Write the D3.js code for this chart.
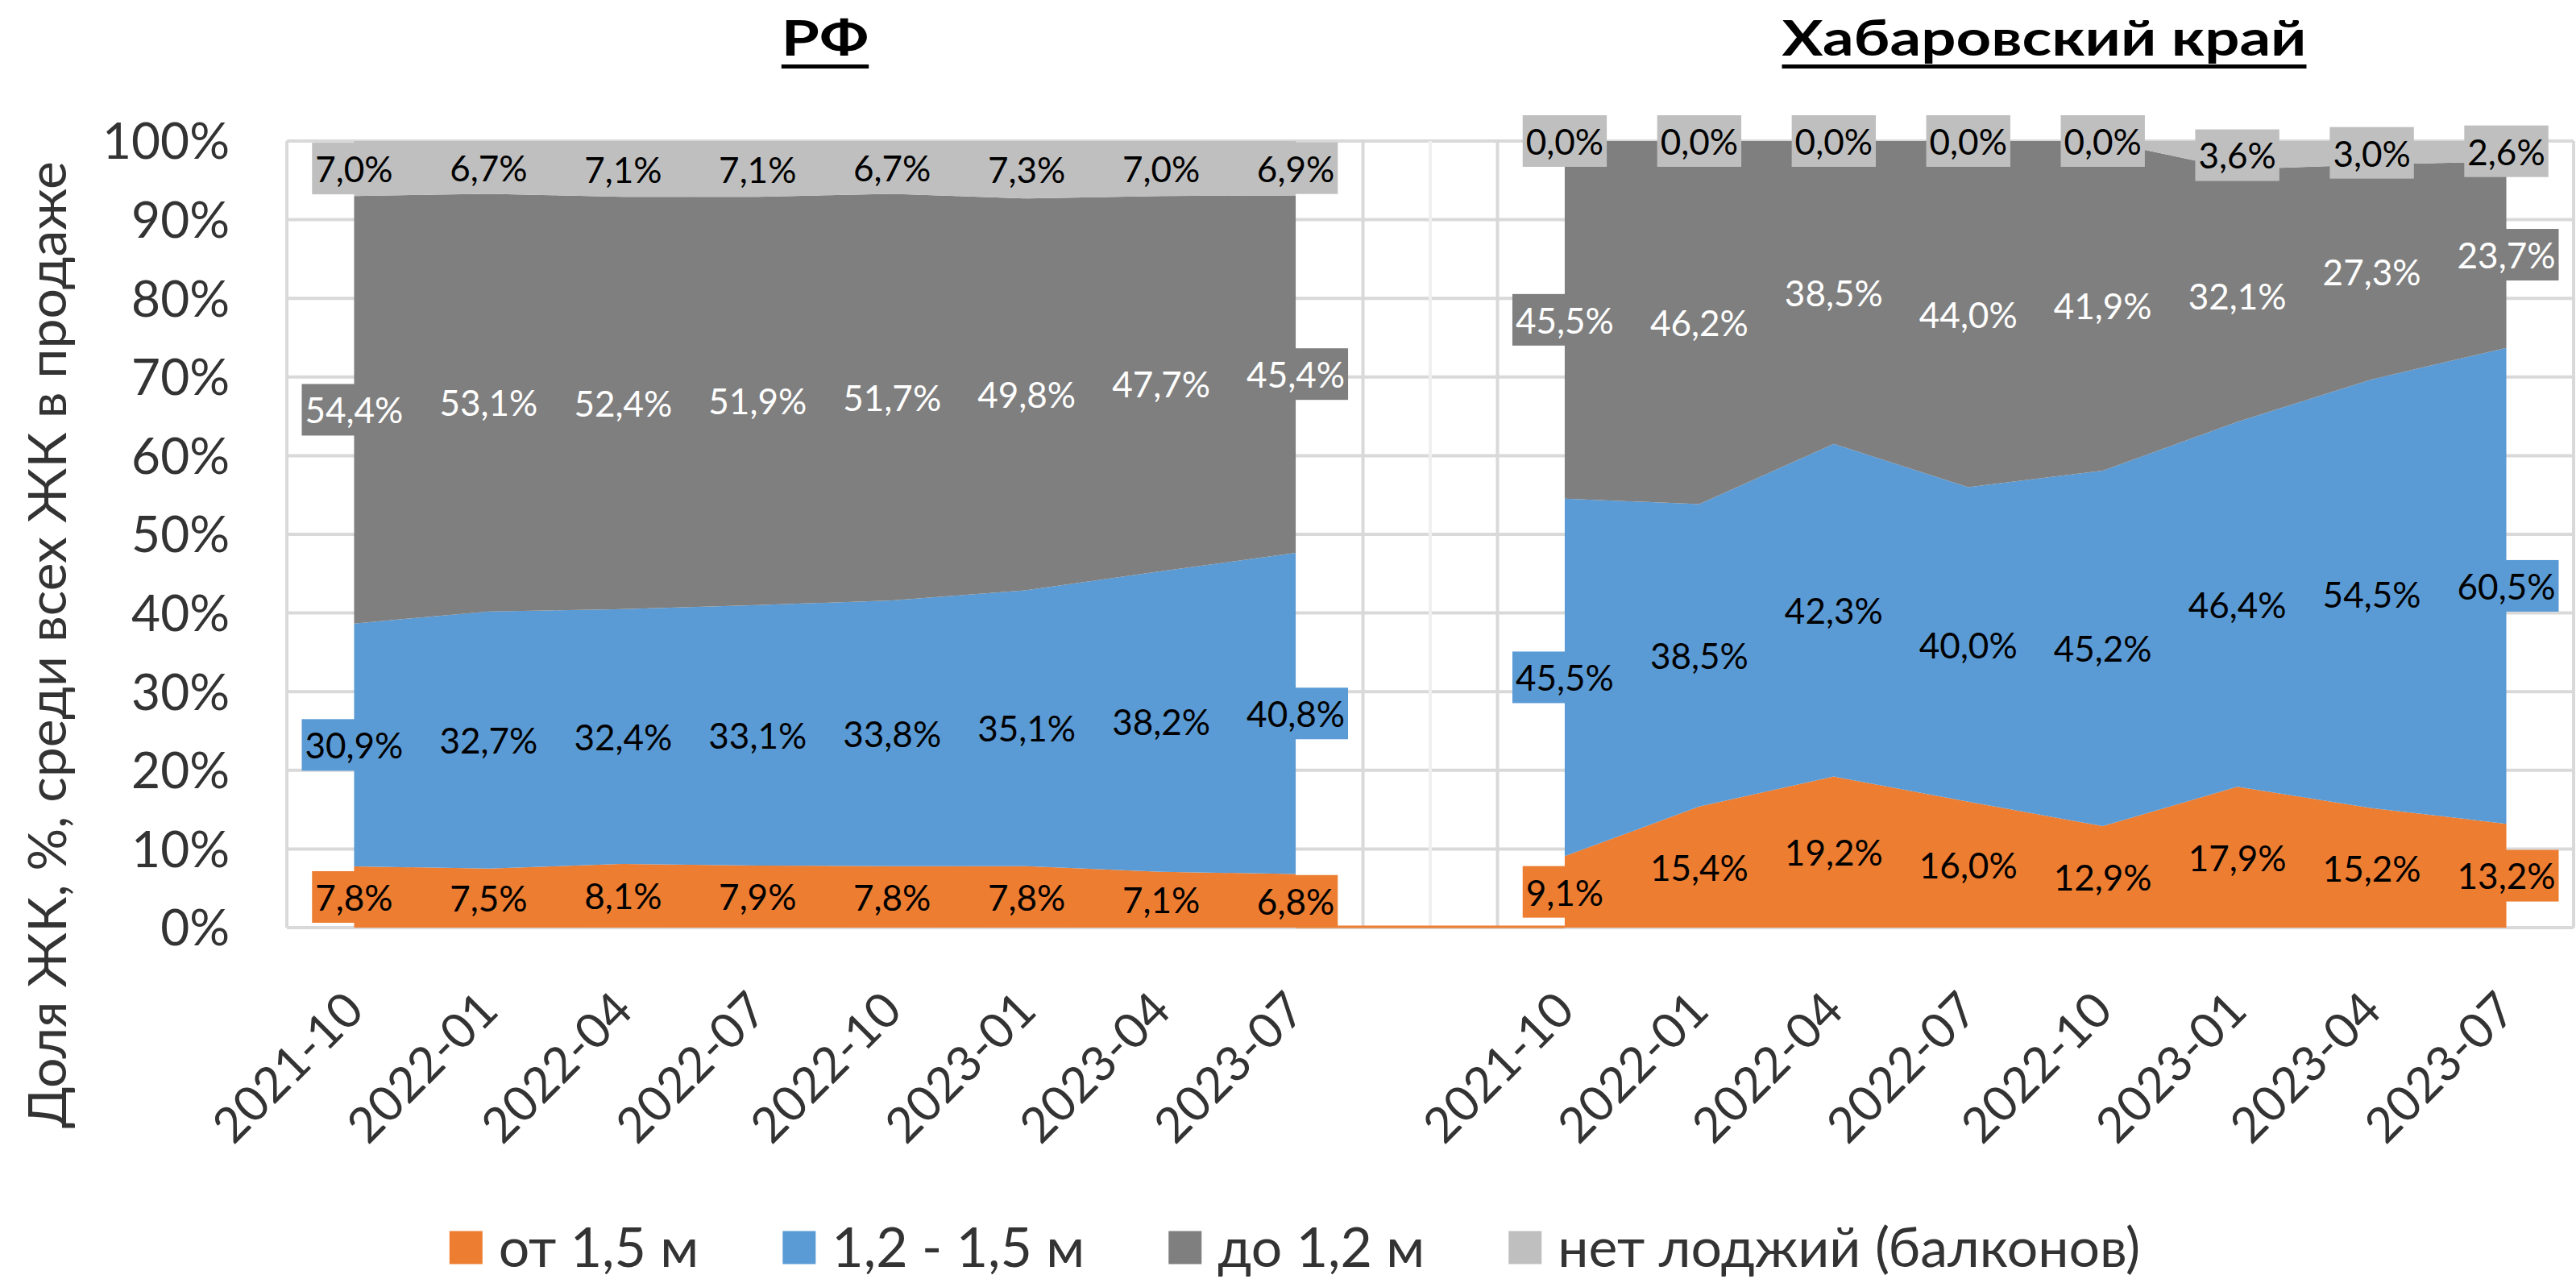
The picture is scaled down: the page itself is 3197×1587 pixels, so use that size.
<!DOCTYPE html>
<html>
<head>
<meta charset="utf-8">
<script src="https://cdn.jsdelivr.net/npm/d3@7"></script>
<style>
  html, body { margin: 0; padding: 0; background: #fff; }
  svg { display: block; }
  text { font-family: Lato, "Noto Sans", sans-serif; }
</style>
</head>
<body>
<svg id="chart"></svg>
<script>
// ---- data ----
const periods = ["2021-10", "2022-01", "2022-04", "2022-07", "2022-10", "2023-01", "2023-04", "2023-07"];
const regions = ["РФ", "Хабаровский край"];
const seriesNames = ["от 1,5 м", "1,2 - 1,5 м", "до 1,2 м", "нет лоджий (балконов)"];

// РФ
const rfOver15   = [7.8, 7.5, 8.1, 7.9, 7.8, 7.8, 7.1, 6.8];
const rf12to15   = [30.9, 32.7, 32.4, 33.1, 33.8, 35.1, 38.2, 40.8];
const rfUnder12  = [54.4, 53.1, 52.4, 51.9, 51.7, 49.8, 47.7, 45.4];
const rfNone     = [7.0, 6.7, 7.1, 7.1, 6.7, 7.3, 7.0, 6.9];

// Хабаровский край
const khOver15   = [9.1, 15.4, 19.2, 16.0, 12.9, 17.9, 15.2, 13.2];
const kh12to15   = [45.5, 38.5, 42.3, 40.0, 45.2, 46.4, 54.5, 60.5];
const khUnder12  = [45.5, 46.2, 38.5, 44.0, 41.9, 32.1, 27.3, 23.7];
const khNone     = [0.0, 0.0, 0.0, 0.0, 0.0, 3.6, 3.0, 2.6];

const yTicks = [0, 10, 20, 30, 40, 50, 60, 70, 80, 90, 100];
const yTitle = "Доля ЖК, %, среди всех ЖК в продаже";

// ---- style ----
const W = 3197, H = 1587;
const seriesColors = ["#ED7D31", "#5B9BD5", "#7F7F7F", "#BFBFBF"];
const labelInk = ["#000", "#000", "#fff", "#000"];
const axisInk = "#333333";
const gridColor = "#d9d9d9";

const plot = { left: 356, right: 3194, top: 175, bottom: 1151 };

const svg = d3.select("#chart").attr("width", W).attr("height", H);

// width of a string at a given size
function textWidth(str, size, weight) {
  const t = svg.append("text").attr("font-size", size).attr("font-weight", weight || 400).text(str);
  const w = t.node().getComputedTextLength();
  t.remove();
  return w;
}
// font size that makes a string span a given width
const fitSize = (str, target, weight) => 100 * target / textWidth(str, 100, weight);

const tickFs = fitSize("100%", 158);
const labelFs = fitSize("45,4%", 122);
const legendFs = fitSize(seriesNames[3], 723);
const xFs = fitSize("2022-01", 233);
const yTitleFs = fitSize(yTitle, 1200);
// bold titles: set by glyph height, widened to the wanted span
const titleFs = 62;
const titleStretch = 651 / textWidth(regions[1], titleFs, 700);

// ---- scales ----
const groups = [
  { name: regions[0], prefix: "RF", series: [rfOver15, rf12to15, rfUnder12, rfNone], titleX: 1024 },
  { name: regions[1], prefix: "KH", series: [khOver15, kh12to15, khUnder12, khNone], titleX: 2537 }
];
const categories = [
  ...periods.map(p => "RF " + p),
  "gap",
  ...periods.map(p => "KH " + p)
];
const x = d3.scaleBand().domain(categories).range([plot.left, plot.right]).padding(0);
const xc = k => x(k) + x.bandwidth() / 2;
const y = d3.scaleLinear().domain([0, 1]).range([plot.bottom, plot.top]);

// ---- gridlines ----
const grid = svg.append("g");
grid.selectAll("line.h").data(yTicks).join("line")
  .attr("x1", plot.left).attr("x2", plot.right)
  .attr("y1", d => y(d / 100)).attr("y2", d => y(d / 100))
  .attr("stroke", gridColor).attr("stroke-width", 4);
const bounds = d3.range(categories.length + 1).map(i => plot.left + i * x.bandwidth());
grid.selectAll("line.v").data(bounds).join("line")
  .attr("x1", d => d).attr("x2", d => d)
  .attr("y1", plot.top).attr("y2", plot.bottom)
  .attr("stroke", gridColor).attr("stroke-width", 4);
grid.append("line")
  .attr("x1", xc("gap")).attr("x2", xc("gap"))
  .attr("y1", plot.top).attr("y2", plot.bottom)
  .attr("stroke", "#efefef").attr("stroke-width", 4);

// ---- stacked areas ----
const fmt = v => d3.format(".1f")(v).replace(".", ",") + "%";
const stacked = groups.map(g => {
  const rows = periods.map((p, i) => {
    const r = { key: g.prefix + " " + p };
    g.series.forEach((s, j) => { r["s" + j] = s[i]; });
    return r;
  });
  return d3.stack().keys(["s0", "s1", "s2", "s3"]).offset(d3.stackOffsetExpand)(rows);
});

const area = d3.area()
  .x(d => xc(d.data.key))
  .y0(d => y(d[0]))
  .y1(d => y(d[1]));

const areas = svg.append("g");
stacked.forEach(layers => {
  areas.selectAll(null).data(layers).join("path")
    .attr("d", area)
    .attr("fill", (d, i) => seriesColors[i]);
});

// zero-level edge across the empty category
areas.append("line")
  .attr("x1", xc("RF " + periods[periods.length - 1]))
  .attr("x2", xc("KH " + periods[0]))
  .attr("y1", y(0) - 1).attr("y2", y(0) - 1)
  .attr("stroke", seriesColors[0]).attr("stroke-width", 3);

// ---- data labels ----
const labels = svg.append("g");
const boxH = 64, padX = 4;
stacked.forEach((layers, gi) => {
  layers.forEach((layer, si) => {
    layer.forEach((d, pi) => {
      const v = groups[gi].series[si][pi];
      const cx = xc(d.data.key);
      const cy = y((d[0] + d[1]) / 2);
      const g = labels.append("g");
      const t = g.append("text")
        .attr("x", cx).attr("y", cy + 0.36 * labelFs + 1)
        .attr("text-anchor", "middle")
        .attr("font-size", labelFs)
        .attr("fill", labelInk[si])
        .text(fmt(v));
      const w = t.node().getComputedTextLength() + 2 * padX;
      g.insert("rect", "text")
        .attr("x", cx - w / 2).attr("y", cy - boxH / 2)
        .attr("width", w).attr("height", boxH)
        .attr("fill", seriesColors[si]);
    });
  });
});

// ---- y axis ----
svg.append("g").selectAll("text").data(yTicks).join("text")
  .attr("x", 285).attr("y", d => y(d / 100) + 0.36 * tickFs)
  .attr("text-anchor", "end")
  .attr("font-size", tickFs).attr("fill", axisInk)
  .text(d => d + "%");

svg.append("text")
  .attr("transform", "translate(82,800) rotate(-90)")
  .attr("text-anchor", "middle")
  .attr("font-size", yTitleFs).attr("fill", axisInk)
  .text(yTitle);

// ---- x axis labels ----
svg.append("g").selectAll("text").data(categories.filter(c => c !== "gap")).join("text")
  .attr("transform", d => `translate(${xc(d) + 15},1257) rotate(-45)`)
  .attr("text-anchor", "end")
  .attr("font-size", xFs).attr("fill", axisInk)
  .text(d => d.slice(3));

// ---- titles (bold, underlined) ----
groups.forEach(g => {
  svg.append("text")
    .attr("transform", `translate(${g.titleX},69) scale(${titleStretch},1)`)
    .attr("text-anchor", "middle")
    .attr("font-size", titleFs).attr("font-weight", 700).attr("fill", "#000")
    .text(g.name);
  const w = textWidth(g.name, titleFs, 700) * titleStretch;
  svg.append("rect")
    .attr("x", g.titleX - w / 2).attr("y", 80)
    .attr("width", w).attr("height", 5).attr("fill", "#000");
});

// ---- legend ----
const sw = 41, swGap = 20, itemGap = 104, legendCx = 1607, legendCy = 1548;
const legend = svg.append("g");
const widths = seriesNames.map(n => textWidth(n, legendFs));
const total = d3.sum(widths) + seriesNames.length * (sw + swGap) + (seriesNames.length - 1) * itemGap;
let lx = legendCx - total / 2;
seriesNames.forEach((n, i) => {
  legend.append("rect")
    .attr("x", lx).attr("y", legendCy - sw / 2)
    .attr("width", sw).attr("height", sw)
    .attr("fill", seriesColors[i]);
  legend.append("text")
    .attr("x", lx + sw + swGap).attr("y", legendCy + 0.36 * legendFs)
    .attr("font-size", legendFs).attr("fill", axisInk)
    .text(n);
  lx += sw + swGap + widths[i] + itemGap;
});
</script>
</body>
</html>
